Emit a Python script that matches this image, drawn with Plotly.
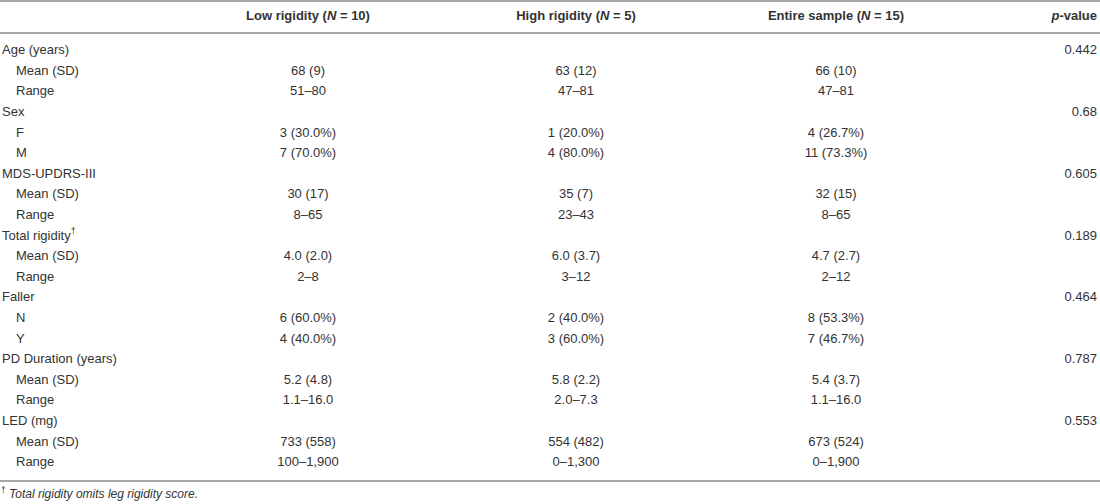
import plotly.graph_objects as go

# rows of the table (label, indented?)
row_labels = ["Age (years)", "Mean (SD)", "Range",
              "Sex", "F", "M",
              "MDS-UPDRS-III", "Mean (SD)", "Range",
              "Total rigidity<sup>†</sup>", "Mean (SD)", "Range",
              "Faller", "N", "Y",
              "PD Duration (years)", "Mean (SD)", "Range",
              "LED (mg)", "Mean (SD)", "Range"]
row_indent = [0, 1, 1, 0, 1, 1, 0, 1, 1, 0, 1, 1, 0, 1, 1, 0, 1, 1, 0, 1, 1]

headers = ["<b>Low rigidity (<i>N</i> = 10)</b>",
           "<b>High rigidity (<i>N</i> = 5)</b>",
           "<b>Entire sample (<i>N</i> = 15)</b>",
           "<b><i>p</i>-value</b>"]

low_rig = ["", "68 (9)", "51–80", "", "3 (30.0%)", "7 (70.0%)",
           "", "30 (17)", "8–65", "", "4.0 (2.0)", "2–8",
           "", "6 (60.0%)", "4 (40.0%)", "", "5.2 (4.8)", "1.1–16.0",
           "", "733 (558)", "100–1,900"]
high_rig = ["", "63 (12)", "47–81", "", "1 (20.0%)", "4 (80.0%)",
            "", "35 (7)", "23–43", "", "6.0 (3.7)", "3–12",
            "", "2 (40.0%)", "3 (60.0%)", "", "5.8 (2.2)", "2.0–7.3",
            "", "554 (482)", "0–1,300"]
entire = ["", "66 (10)", "47–81", "", "4 (26.7%)", "11 (73.3%)",
          "", "32 (15)", "8–65", "", "4.7 (2.7)", "2–12",
          "", "8 (53.3%)", "7 (46.7%)", "", "5.4 (3.7)", "1.1–16.0",
          "", "673 (524)", "0–1,900"]
p_values = ["0.442", "", "", "0.68", "", "", "0.605", "", "", "0.189", "", "",
            "0.464", "", "", "0.787", "", "", "0.553", "", ""]

footnote = "<sup>†</sup> <i>Total rigidity omits leg rigidity score.</i>"

W, H = 1100, 504
ROW0, ROWH = 51, 20.6          # pixel centre of first row, row pitch


def ypix(p):
    return (p - ROW0) / ROWH


def nonempty(vals):
    idx = [i for i, v in enumerate(vals) if v]
    return idx, [vals[i] for i in idx]


txt = "#333333"
fnt = dict(family="Liberation Sans, Arial, sans-serif", size=13, color=txt)

fig = go.Figure()

# label column
fig.add_trace(go.Scatter(
    x=[2 + 14 * i for i in row_indent], y=list(range(len(row_labels))),
    text=row_labels, mode="text", textposition="middle right",
    textfont=fnt, hoverinfo="skip", cliponaxis=False))

# value columns
col_x = [308, 576, 836]
for cx, vals in zip(col_x, [low_rig, high_rig, entire]):
    rows, vv = nonempty(vals)
    fig.add_trace(go.Scatter(
        x=[cx] * len(rows), y=rows, text=vv,
        mode="text", textposition="middle center", textfont=fnt,
        hoverinfo="skip", cliponaxis=False))

rows, vv = nonempty(p_values)
fig.add_trace(go.Scatter(
    x=[1097] * len(rows), y=rows, text=vv,
    mode="text", textposition="middle left", textfont=fnt,
    hoverinfo="skip", cliponaxis=False))

# header row
hy = ypix(17)
fig.add_trace(go.Scatter(
    x=col_x, y=[hy] * 3, text=headers[:3],
    mode="text", textposition="middle center", textfont=fnt,
    hoverinfo="skip", cliponaxis=False))
fig.add_trace(go.Scatter(
    x=[1097], y=[hy], text=headers[3:],
    mode="text", textposition="middle left", textfont=fnt,
    hoverinfo="skip", cliponaxis=False))

# footnote
fig.add_trace(go.Scatter(
    x=[1], y=[ypix(495)], text=[footnote],
    mode="text", textposition="middle right",
    textfont=dict(family="Liberation Sans, Arial, sans-serif", size=12, color=txt),
    hoverinfo="skip", cliponaxis=False))

# horizontal rules
for p in [1, 33, 481]:
    fig.add_shape(type="line", xref="x", yref="y", x0=0, x1=W,
                  y0=ypix(p), y1=ypix(p), line=dict(color="#8a8a8a", width=1.3))

fig.update_layout(
    width=W, height=H, showlegend=False,
    margin=dict(l=0, r=0, t=0, b=0),
    paper_bgcolor="white", plot_bgcolor="white",
    xaxis=dict(range=[0, W], visible=False, fixedrange=True),
    yaxis=dict(range=[ypix(H), ypix(0)], visible=False, fixedrange=True),
)

fig.write_html("out.html", config={"displayModeBar": False},
               post_script="document.body.style.margin='0';")
